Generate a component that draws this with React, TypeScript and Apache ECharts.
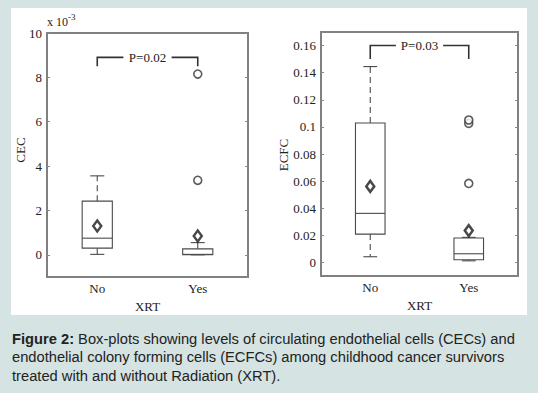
import React, { useEffect, useRef } from "react";
import * as echarts from "echarts";

const categories = ["No", "Yes"];
// box statistics: [lower whisker, Q1, median, Q3, upper whisker]
const cecBoxes = [
  [0.02, 0.3, 0.75, 2.42, 3.56],
  [0, 0, 0.02, 0.27, 0.55],
];
const cecMeans = [1.3, 0.85];
const cecOutliers = [
  [1, 3.36],
  [1, 8.15],
];
const ecfcBoxes = [
  [0.0042, 0.0209, 0.0362, 0.1029, 0.1445],
  [0.0012, 0.002, 0.0064, 0.018, 0.0185],
];
const ecfcMeans = [0.0561, 0.0235];
const ecfcOutliers = [
  [1, 0.0583],
  [1, 0.1026],
  [1, 0.1051],
];
// bracket: [top, drop]
const cecBracket = [8.9, 8.5];
const ecfcBracket = [0.16, 0.15];
const bracketLabels = ["P=0.02", "P=0.03"];
const captionLines = [
  "Box-plots showing levels of circulating endothelial cells (CECs) and",
  "endothelial colony forming cells (ECFCs) among childhood cancer survivors",
  "treated with and without Radiation (XRT).",
];

const SERIF = "'Liberation Serif', 'Times New Roman', serif";
const SANS = "'Liberation Sans', Arial, sans-serif";
const TXT = "#222";
const LINE = "#4a4a4a";
const CAP_FONT = 14.7;

const boxRender = (params: any, api: any) => {
  const i = api.value(0);
  const mn = api.value(1), q1 = api.value(2), md = api.value(3), q3 = api.value(4), mx = api.value(5);
  const band = api.size([1, 0])[0];
  const half = band * 0.15;
  const cap = band * 0.07;
  const cx = api.coord([i, md])[0];
  const y = (v: number) => api.coord([i, v])[1];
  const st = { stroke: LINE, lineWidth: 1.1, fill: "none" };
  const dash = { stroke: LINE, lineWidth: 1.1, lineDash: [6, 4] };
  return {
    type: "group",
    children: [
      { type: "line", shape: { x1: cx, y1: y(q3), x2: cx, y2: y(mx) }, style: dash },
      { type: "line", shape: { x1: cx, y1: y(q1), x2: cx, y2: y(mn) }, style: dash },
      { type: "line", shape: { x1: cx - cap, y1: y(mx), x2: cx + cap, y2: y(mx) }, style: st },
      { type: "line", shape: { x1: cx - cap, y1: y(mn), x2: cx + cap, y2: y(mn) }, style: st },
      { type: "rect", shape: { x: cx - half, y: y(q3), width: 2 * half, height: y(q1) - y(q3) }, style: { ...st, fill: "#fff" } },
      { type: "line", shape: { x1: cx - half, y1: y(md), x2: cx + half, y2: y(md) }, style: st },
    ],
  };
};

const bracketRender = (labelIdx: number) => (params: any, api: any) => {
  const top = api.value(1), drop = api.value(2);
  const p0 = api.coord([0, drop]);
  const p1 = api.coord([0, top]);
  const p2 = api.coord([1, top]);
  const p3 = api.coord([1, drop]);
  const w = p2[0] - p1[0];
  const st = { stroke: "#333", lineWidth: 1.6, fill: "none" };
  return {
    type: "group",
    children: [
      { type: "polyline", shape: { points: [p0, p1, [p1[0] + 0.26 * w, p1[1]]] }, style: st },
      { type: "polyline", shape: { points: [[p1[0] + 0.74 * w, p2[1]], p2, p3] }, style: st },
      {
        type: "text",
        x: (p1[0] + p2[0]) / 2,
        y: p1[1],
        style: { text: bracketLabels[labelIdx], align: "center", verticalAlign: "middle", font: `13px ${SERIF}`, fill: TXT },
      },
    ],
  };
};

const yAxisPair = (grid: number, min: number, max: number, split: number, fmt: (v: number) => string) => [
  {
    type: "value",
    gridIndex: grid,
    min,
    max,
    splitNumber: split,
    axisLine: { show: false },
    splitLine: { show: false },
    axisTick: { show: true, inside: true, length: 3, lineStyle: { color: "#888" } },
    axisLabel: { color: TXT, fontFamily: SERIF, fontSize: 13, margin: 5, formatter: fmt, showMinLabel: false },
  },
  {
    type: "value",
    gridIndex: grid,
    position: "right",
    min,
    max,
    splitNumber: split,
    axisLine: { show: false },
    splitLine: { show: false },
    axisTick: { show: true, inside: true, length: 3, lineStyle: { color: "#888" } },
    axisLabel: { show: false },
  },
];

const xAxisCfg = (grid: number) => ({
  type: "category",
  gridIndex: grid,
  data: categories,
  axisLine: { show: false },
  axisTick: { show: false },
  axisLabel: { color: TXT, fontFamily: SERIF, fontSize: 13, margin: 5 },
  name: "XRT",
  nameLocation: "middle",
  nameGap: 19,
  nameTextStyle: { color: TXT, fontFamily: SERIF, fontSize: 13 },
});

export default function App() {
  const ref = useRef<HTMLDivElement>(null);
  useEffect(() => {
    if (!ref.current) return;
    const chart = echarts.init(ref.current, null, { renderer: "svg" });
    const meanStyle = { color: "#fff", borderColor: "#1a1a1a", borderWidth: 2.5 };
    const outStyle = { color: "#fff", borderColor: "#333", borderWidth: 1.6 };
    chart.setOption({
      animation: false,
      backgroundColor: "#d5e3e3",
      grid: [
        { left: 47, top: 33, width: 201, height: 244, show: true, borderColor: "#808080", borderWidth: 2, backgroundColor: "transparent" },
        { left: 321, top: 32, width: 197, height: 244, show: true, borderColor: "#808080", borderWidth: 2, backgroundColor: "transparent" },
      ],
      xAxis: [xAxisCfg(0), xAxisCfg(1)],
      yAxis: [
        ...yAxisPair(0, -1, 10, 5, (v: number) => (v < 0 ? "" : String(Number(v.toFixed(3))))),
        ...yAxisPair(1, -0.01, 0.17, 9, (v: number) => (v < 0 || v > 0.165 ? "" : String(Number(v.toFixed(3))))),
      ],
      graphic: [
        { type: "rect", z: -100, shape: { x: 11, y: 8, width: 516, height: 307 }, style: { fill: "#fff" } },
        { type: "text", x: 47, y: 28, style: { text: "x 10", font: `12px ${SERIF}`, fill: TXT, align: "left", verticalAlign: "bottom" } },
        { type: "text", x: 68, y: 21, style: { text: "-3", font: `9px ${SERIF}`, fill: TXT, align: "left", verticalAlign: "bottom" } },
        { type: "text", x: 20, y: 150, rotation: Math.PI / 2, style: { text: "CEC", font: `13px ${SERIF}`, fill: TXT, align: "center", verticalAlign: "middle" } },
        { type: "text", x: 283, y: 155, rotation: Math.PI / 2, style: { text: "ECFC", font: `13px ${SERIF}`, fill: TXT, align: "center", verticalAlign: "middle" } },
        {
          type: "text",
          x: 12,
          y: 346,
          style: { text: "{b|Figure 2:} " + captionLines[0], rich: { b: { font: `bold ${CAP_FONT}px ${SANS}`, fill: "#222" } }, font: `${CAP_FONT}px ${SANS}`, fill: "#222", align: "left", verticalAlign: "bottom" },
        },
        { type: "text", x: 12, y: 364.5, style: { text: captionLines[1], font: `${CAP_FONT}px ${SANS}`, fill: "#222", align: "left", verticalAlign: "bottom" } },
        { type: "text", x: 12, y: 383, style: { text: captionLines[2], font: `${CAP_FONT}px ${SANS}`, fill: "#222", align: "left", verticalAlign: "bottom" } },
      ],
      series: [
        { type: "custom", xAxisIndex: 0, yAxisIndex: 0, renderItem: boxRender, encode: { x: 0, y: [1, 2, 3, 4, 5] }, data: cecBoxes.map((b, i) => [i, ...b]) },
        { type: "custom", xAxisIndex: 1, yAxisIndex: 2, renderItem: boxRender, encode: { x: 0, y: [1, 2, 3, 4, 5] }, data: ecfcBoxes.map((b, i) => [i, ...b]) },
        { type: "scatter", xAxisIndex: 0, yAxisIndex: 0, symbol: "diamond", symbolSize: [8, 11], itemStyle: meanStyle, data: cecMeans.map((m, i) => [i, m]), z: 5 },
        { type: "scatter", xAxisIndex: 1, yAxisIndex: 2, symbol: "diamond", symbolSize: [8, 11], itemStyle: meanStyle, data: ecfcMeans.map((m, i) => [i, m]), z: 5 },
        { type: "scatter", xAxisIndex: 0, yAxisIndex: 0, symbol: "circle", symbolSize: 8, itemStyle: outStyle, data: cecOutliers },
        { type: "scatter", xAxisIndex: 1, yAxisIndex: 2, symbol: "circle", symbolSize: 8, itemStyle: outStyle, data: ecfcOutliers },
        { type: "custom", xAxisIndex: 0, yAxisIndex: 0, renderItem: bracketRender(0), encode: { x: 0, y: [1, 2] }, data: [[0, ...cecBracket]] },
        { type: "custom", xAxisIndex: 1, yAxisIndex: 2, renderItem: bracketRender(1), encode: { x: 0, y: [1, 2] }, data: [[0, ...ecfcBracket]] },
      ],
    });
    return () => chart.dispose();
  }, []);
  return <div ref={ref} style={{ position: "absolute", left: 0, top: 0, width: 538, height: 393 }} />;
}
